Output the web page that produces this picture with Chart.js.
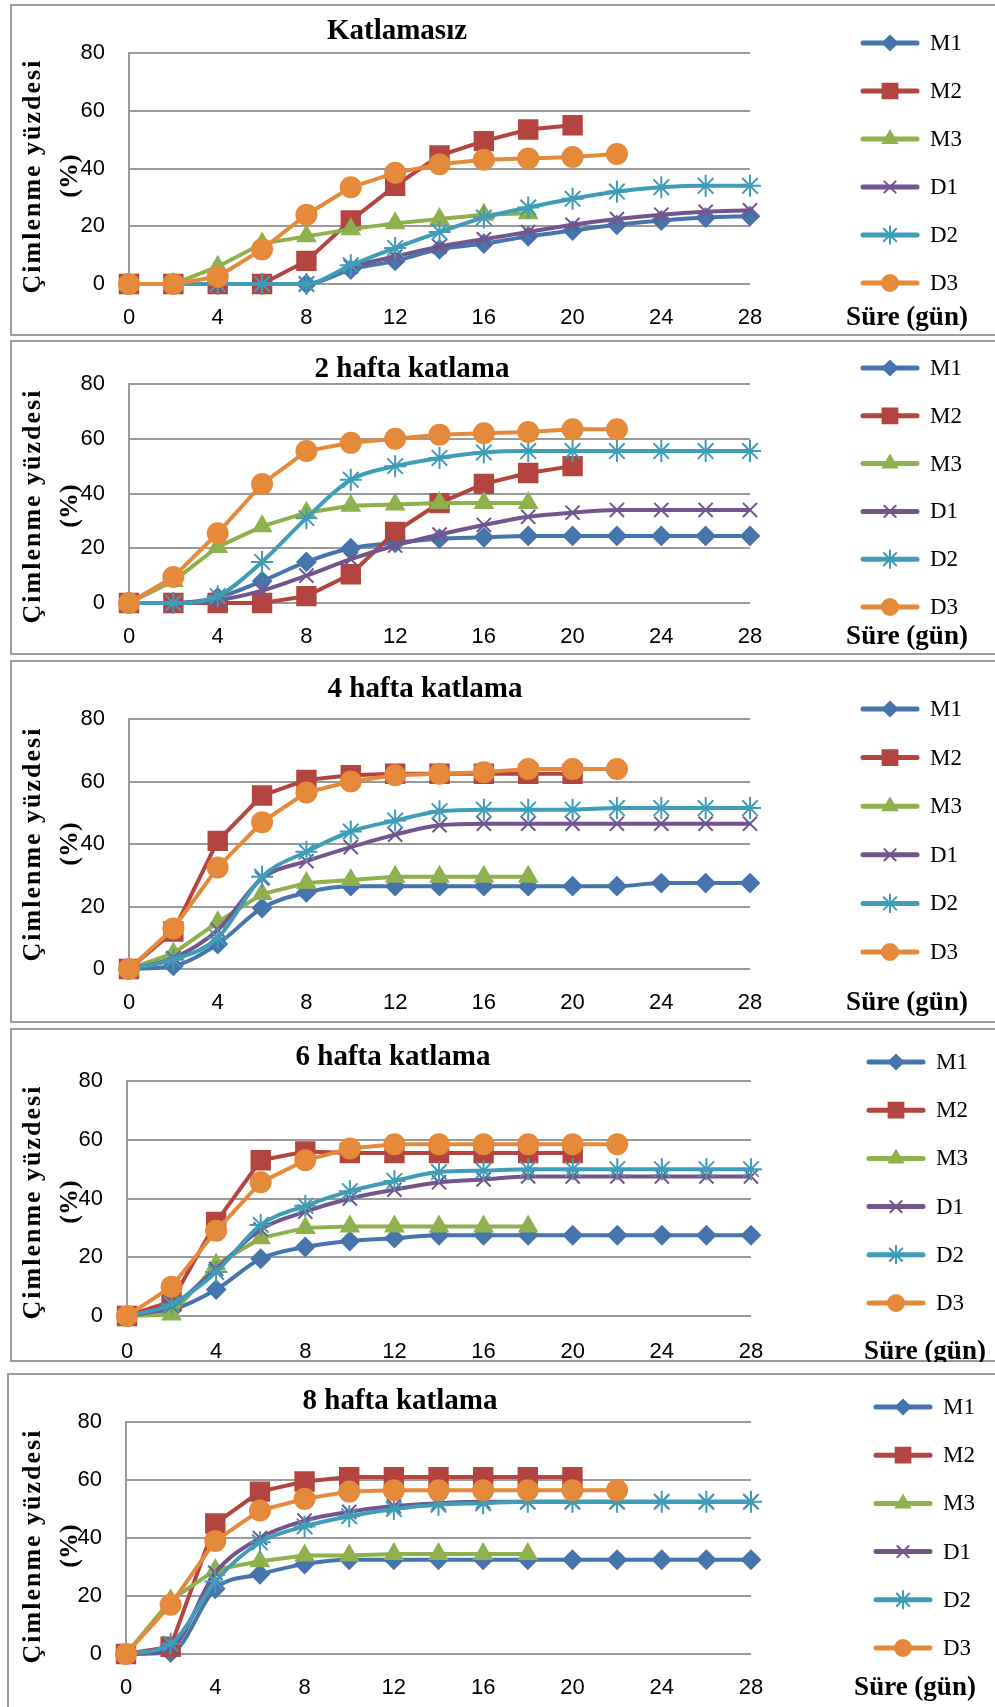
<!DOCTYPE html>
<html>
<head>
<meta charset="utf-8">
<script src="https://cdn.jsdelivr.net/npm/chart.js@4.4.0/dist/chart.umd.min.js"></script>
<style>
    body { margin: 0; width: 995px; height: 1707px; overflow: hidden; background: #fff; position: relative; }
    .box { position: absolute; border: 2px solid #9c9c9c; box-sizing: border-box; }
    canvas { position: absolute; left: 0; }
</style>
</head>
<body>
<script>
// Ortak eksenler
const days = [0, 2, 4, 6, 8, 10, 12, 14, 16, 18, 20, 22, 24, 26, 28];
const xTickValues = [0, 4, 8, 12, 16, 20, 24, 28];
const yTickValues = [0, 20, 40, 60, 80];
const seriesNames = ['M1', 'M2', 'M3', 'D1', 'D2', 'D3'];

// Katlamasız
const k0_M1 = [0, 0, 0, 0, 0, 5, 8, 12, 14, 16.5, 18.5, 20.5, 22, 23, 23.5];
const k0_M2 = [0, 0, 0, 0, 8, 22, 34, 44.5, 49.5, 53.5, 55];
const k0_M3 = [0, 0, 6, 14, 16.5, 19, 21, 22.5, 24, 24.5];
const k0_D1 = [0, 0, 0, 0, 0, 6, 9.5, 13, 15.5, 18, 20.5, 22.5, 24, 25, 25.5];
const k0_D2 = [0, 0, 0, 0, 0, 6.5, 12.5, 18, 23, 26.5, 29.5, 32, 33.5, 34, 34];
const k0_D3 = [0, 0, 2.5, 12, 24, 33.5, 38.5, 41.5, 43, 43.5, 44, 45];

// 2 hafta katlama
const k2_M1 = [0, 0, 2, 8, 15, 20, 22, 23.5, 24, 24.5, 24.5, 24.5, 24.5, 24.5, 24.5];
const k2_M2 = [0, 0, 0, 0, 2.5, 10.5, 26, 36.5, 43.5, 47.5, 50];
const k2_M3 = [0, 8, 20.5, 28, 33, 35.5, 36, 36.5, 36.5, 36.5];
const k2_D1 = [0, 0, 1, 4.5, 10, 16, 21, 25, 28.5, 31.5, 33, 34, 34, 34, 34];
const k2_D2 = [0, 0, 2.5, 15, 31, 45, 50, 53, 55, 55.5, 55.5, 55.5, 55.5, 55.5, 55.5];
const k2_D3 = [0, 9.5, 25.5, 43.5, 55.5, 58.5, 60, 61.5, 62, 62.5, 63.5, 63.5];

// 4 hafta katlama
const k4_M1 = [0, 1, 8, 19.5, 24.5, 26.5, 26.5, 26.5, 26.5, 26.5, 26.5, 26.5, 27.5, 27.5, 27.5];
const k4_M2 = [0, 12, 41, 55.5, 60.5, 62, 62.5, 62.5, 62.5, 62.5, 62.5];
const k4_M3 = [0, 5, 15, 24, 27.5, 28.5, 29.5, 29.5, 29.5, 29.5];
const k4_D1 = [0, 3.5, 12.5, 29, 34.5, 39, 43, 46, 46.5, 46.5, 46.5, 46.5, 46.5, 46.5, 46.5];
const k4_D2 = [0, 3, 10, 29.5, 37.5, 44, 47.5, 50.5, 51, 51, 51, 51.5, 51.5, 51.5, 51.5];
const k4_D3 = [0, 13, 32.5, 47, 56.5, 60, 62, 62.5, 63, 64, 64, 64];

// 6 hafta katlama
const k6_M1 = [0, 2, 9, 19.5, 23.5, 25.5, 26.5, 27.5, 27.5, 27.5, 27.5, 27.5, 27.5, 27.5, 27.5];
const k6_M2 = [0, 5, 32, 53, 56, 55.5, 55.5, 55.5, 55.5, 55.5, 55.5];
const k6_M3 = [0, 0.5, 17.5, 26.5, 30, 30.5, 30.5, 30.5, 30.5, 30.5];
const k6_D1 = [0, 3.5, 16, 29.5, 35.5, 40, 43, 45.5, 46.5, 47.5, 47.5, 47.5, 47.5, 47.5, 47.5];
const k6_D2 = [0, 4, 15, 31, 37.5, 42.5, 46, 49, 49.5, 50, 50, 50, 50, 50, 50];
const k6_D3 = [0, 10, 29, 45.5, 53, 57, 58.5, 58.5, 58.5, 58.5, 58.5, 58.5];

// 8 hafta katlama
const k8_M1 = [0, 0.5, 22.5, 27.5, 31, 32.5, 32.5, 32.5, 32.5, 32.5, 32.5, 32.5, 32.5, 32.5, 32.5];
const k8_M2 = [0, 2.5, 45, 56, 59.5, 61, 61, 61, 61, 61, 61];
const k8_M3 = [0, 18.5, 29, 32, 34, 34, 34.5, 34.5, 34.5, 34.5];
const k8_D1 = [0, 2, 28, 40, 46, 49, 51, 52, 52.5, 52.5, 52.5, 52.5, 52.5, 52.5, 52.5];
const k8_D2 = [0, 3.5, 25, 38.5, 44, 47.5, 50, 51.5, 52, 52.5, 52.5, 52.5, 52.5, 52.5, 52.5];
const k8_D3 = [0, 17, 39, 49.5, 53.5, 56, 56.5, 56.5, 56.5, 56.5, 56.5, 56.5];

// Seri görünümleri
const seriesStyle = {
    M1: { color: '#4674ad', point: 'rectRot', radius: 9, smooth: true },
    M2: { color: '#b4443f', point: 'rect', radius: 13, smooth: false },
    M3: { color: '#8eb04d', point: 'triangle', radius: 10, smooth: false },
    D1: { color: '#72558f', point: 'crossRot', radius: 10, smooth: true },
    D2: { color: '#3f9db8', point: 'star', radius: 11, smooth: true },
    D3: { color: '#e5893a', point: 'circle', radius: 10, smooth: false }
};

// Paneller (sayfa koordinatları)
const panels = [
    { title: 'Katlamasız', data: [k0_M1, k0_M2, k0_M3, k0_D1, k0_D2, k0_D3],
      boxTop: 4, boxBottom: 336, boxLeft: 10, plotL: 129, plotR: 750, plotT: 53, plotB: 284,
      titleX: 397, titleY: 32, legX: 863, legY: 43, legDy: 48, xLabY: 318, sureX: 907, yTitleY: 176 },
    { title: '2 hafta katlama', data: [k2_M1, k2_M2, k2_M3, k2_D1, k2_D2, k2_D3],
      boxTop: 340, boxBottom: 655, boxLeft: 10, plotL: 129, plotR: 750, plotT: 384, plotB: 603,
      titleX: 412, titleY: 370, legX: 863, legY: 368, legDy: 47.8, xLabY: 637, sureX: 907, yTitleY: 506 },
    { title: '4 hafta katlama', data: [k4_M1, k4_M2, k4_M3, k4_D1, k4_D2, k4_D3],
      boxTop: 660, boxBottom: 1023, boxLeft: 10, plotL: 129, plotR: 750, plotT: 719, plotB: 969,
      titleX: 425, titleY: 690, legX: 863, legY: 709, legDy: 48.6, xLabY: 1003, sureX: 907, yTitleY: 844 },
    { title: '6 hafta katlama', data: [k6_M1, k6_M2, k6_M3, k6_D1, k6_D2, k6_D3],
      boxTop: 1028, boxBottom: 1362, boxLeft: 10, plotL: 127, plotR: 751, plotT: 1081, plotB: 1316,
      titleX: 393, titleY: 1058, legX: 869, legY: 1062, legDy: 48.2, xLabY: 1352, sureX: 925, yTitleY: 1202 },
    { title: '8 hafta katlama', data: [k8_M1, k8_M2, k8_M3, k8_D1, k8_D2, k8_D3],
      boxTop: 1373, boxBottom: 1720, boxLeft: 7, plotL: 126, plotR: 751, plotT: 1422, plotB: 1654,
      titleX: 400, titleY: 1402, legX: 876, legY: 1407, legDy: 48.2, xLabY: 1688, sureX: 915, yTitleY: 1546 }
];

// Başlık, lejant ve eksen yazıları
const textPlugin = {
    id: 'panelTexts',
    afterDraw(chart) {
        const p = chart.options.plugins.panelTexts.panel;
        const ctx = chart.ctx;
        const top = p.boxTop;
        ctx.save();
        ctx.fillStyle = '#000';
        ctx.textAlign = 'center';
        ctx.textBaseline = 'middle';

        ctx.font = 'bold 29px "Liberation Serif"';
        ctx.fillText(p.title, p.titleX, p.titleY - top);

        ctx.font = 'bold 27px "Liberation Serif"';
        ctx.fillText('Süre (gün)', p.sureX, p.xLabY - top);

        // Y ekseni başlığı
        ctx.save();
        ctx.translate(33, p.yTitleY - top);
        ctx.rotate(-Math.PI / 2);
        ctx.font = 'bold 26px "Liberation Serif"';
        ctx.letterSpacing = '2px';
        ctx.fillText('Çimlenme yüzdesi', 0, 0);
        ctx.restore();
        ctx.save();
        ctx.translate(70, p.yTitleY - top);
        ctx.rotate(-Math.PI / 2);
        ctx.font = 'bold 26px "Liberation Serif"';
        ctx.fillText('(%)', 0, 0);
        ctx.restore();

        // Lejant
        seriesNames.forEach((name, i) => {
            const st = seriesStyle[name];
            const y = p.legY + i * p.legDy - top;
            ctx.strokeStyle = st.color;
            ctx.lineWidth = 5;
            ctx.lineCap = 'round';
            ctx.beginPath();
            ctx.moveTo(p.legX, y);
            ctx.lineTo(p.legX + 54, y);
            ctx.stroke();
            ctx.fillStyle = st.color;
            ctx.lineWidth = 2;
            Chart.helpers.drawPoint(ctx, { pointStyle: st.point, radius: st.radius * 0.8, rotation: 0, borderWidth: 2 }, p.legX + 27, y);
            ctx.fillStyle = '#000';
            ctx.textAlign = 'left';
            ctx.font = '23px "Liberation Serif"';
            ctx.fillText(name, p.legX + 67, y + 1);
        });
        ctx.restore();
    }
};

function makePanel(p) {
    const box = document.createElement('div');
    box.className = 'box';
    box.style.left = p.boxLeft + 'px';
    box.style.top = p.boxTop + 'px';
    box.style.width = '1100px';
    box.style.height = (p.boxBottom - p.boxTop) + 'px';
    document.body.appendChild(box);

    const h = Math.min(p.boxBottom, 1707) - p.boxTop;
    const canvas = document.createElement('canvas');
    canvas.width = 995;
    canvas.height = h;
    canvas.style.top = p.boxTop + 'px';
    canvas.style.width = '995px';
    canvas.style.height = h + 'px';
    document.body.appendChild(canvas);

    const datasets = seriesNames.map((name, i) => {
        const st = seriesStyle[name];
        return {
            label: name,
            data: p.data[i].map((v, j) => ({ x: days[j], y: v })),
            borderColor: st.color,
            backgroundColor: st.color,
            borderWidth: 4,
            pointStyle: st.point,
            pointRadius: st.radius,
            pointBorderWidth: 2,
            pointBorderColor: st.color,
            pointBackgroundColor: st.color,
            tension: st.smooth ? 0.4 : 0,
            cubicInterpolationMode: st.smooth ? 'monotone' : 'default',
            clip: false,
            order: 5 - i
        };
    });

    new Chart(canvas, {
        type: 'line',
        data: { datasets: datasets },
        options: {
            responsive: false,
            animation: false,
            devicePixelRatio: 1,
            layout: {
                padding: { left: 0, top: p.plotT - p.boxTop, right: 995 - p.plotR, bottom: 0 }
            },
            plugins: {
                legend: { display: false },
                tooltip: { enabled: false },
                panelTexts: { panel: p }
            },
            scales: {
                x: {
                    type: 'linear',
                    min: 0,
                    max: 28,
                    afterBuildTicks: s => { s.ticks = xTickValues.map(v => ({ value: v })); },
                    afterFit: s => { s.height = h - (p.plotB - p.boxTop); },
                    grid: { display: false, drawTicks: false },
                    border: { display: false },
                    ticks: {
                        color: '#000',
                        font: { family: '"Liberation Sans"', size: 22 },
                        padding: p.xLabY - p.plotB - 13,
                        maxRotation: 0,
                        autoSkip: false
                    }
                },
                y: {
                    min: 0,
                    max: 80,
                    afterBuildTicks: s => { s.ticks = yTickValues.map(v => ({ value: v })); },
                    afterFit: s => { s.width = p.plotL; },
                    grid: { color: '#9a9a9a', lineWidth: 2, drawTicks: false },
                    border: { display: true, color: '#9a9a9a', width: 2 },
                    ticks: {
                        color: '#000',
                        font: { family: '"Liberation Sans"', size: 22 },
                        padding: 24
                    }
                }
            }
        },
        plugins: [textPlugin]
    });
}

panels.forEach(makePanel);
</script>
</body>
</html>
